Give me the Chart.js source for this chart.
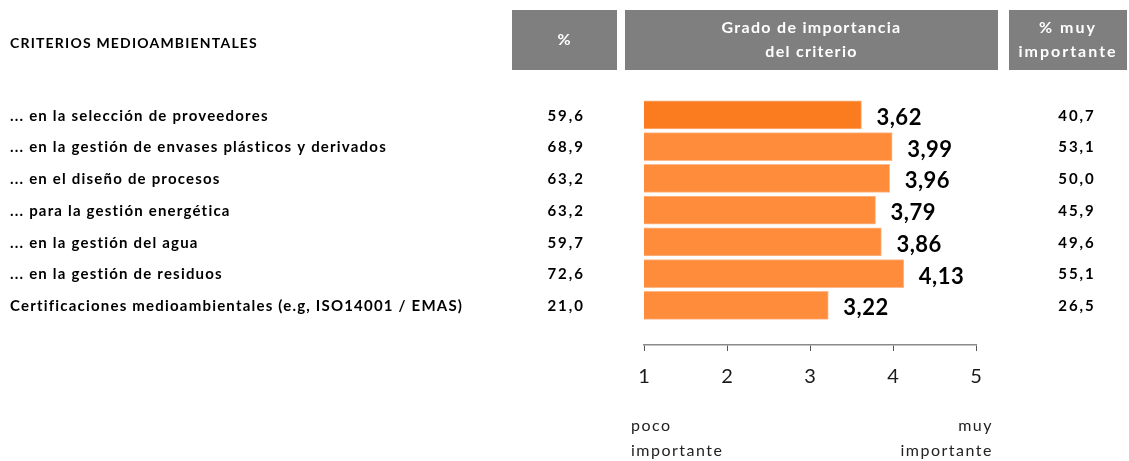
<!DOCTYPE html>
<html>
<head>
<meta charset="utf-8">
<script src="https://cdn.jsdelivr.net/npm/chart.js@4.4.1/dist/chart.umd.min.js"></script>
<style>
  html, body { margin: 0; padding: 0; background: #fff; }
  #wrap { width: 1129px; height: 461px; position: relative; }
</style>
</head>
<body>
<div id="wrap"><canvas id="myChart" width="1129" height="461"></canvas></div>
<script>
// data
const categories = [
	'... en la selección de proveedores',
	'... en la gestión de envases plásticos y derivados',
	'... en el diseño de procesos',
	'... para la gestión energética',
	'... en la gestión del agua',
	'... en la gestión de residuos',
	'Certificaciones medioambientales (e.g, ISO14001 / EMAS)'
];
const pctValues = [59.6, 68.9, 63.2, 63.2, 59.7, 72.6, 21.0];
const gradoValues = [3.62, 3.99, 3.96, 3.79, 3.86, 4.13, 3.22];
const muyImportanteValues = [40.7, 53.1, 50.0, 45.9, 49.6, 55.1, 26.5];
const scaleMin = 1;
const scaleMax = 5;
const endLabels = [['poco', 'importante'], ['muy', 'importante']];
const title = 'CRITERIOS MEDIOAMBIENTALES';
const headers = [['%'], ['Grado de importancia', 'del criterio'], ['% muy', 'importante']];

const FONT = 'Lato, "DejaVu Sans", sans-serif';
const fmt = (v, d) => v.toFixed(d).replace('.', ',');

const textPlugin = {
	id: 'textPlugin',
	afterDraw(chart) {
		const ctx = chart.ctx;
		const x = chart.scales.x;
		const y = chart.scales.y;
		ctx.save();

		// header boxes
		const boxes = [[512, 105], [625, 373], [1009, 118]];
		const headSpacing = ['1px', '1.3px', '2px'];
		ctx.fillStyle = '#7f7f7f';
		boxes.forEach(b => ctx.fillRect(b[0], 10, b[1], 60));
		ctx.fillStyle = '#ffffff';
		ctx.textAlign = 'center';
		ctx.textBaseline = 'middle';
		headers.forEach((lines, i) => {
			ctx.font = 'bold 16px ' + FONT;
			ctx.letterSpacing = headSpacing[i];
			const cx = boxes[i][0] + boxes[i][1] / 2;
			const y0 = 40 - (lines.length - 1) * 12;
			lines.forEach((l, j) => ctx.fillText(l, cx, y0 + j * 24));
		});

		// title
		ctx.fillStyle = '#000';
		ctx.textAlign = 'left';
		ctx.font = 'bold 14px ' + FONT;
		ctx.letterSpacing = '1.2px';
		ctx.fillText(title, 10, 43);

		// rows
		categories.forEach((c, i) => {
			const py = y.getPixelForValue(i) + 1;
			ctx.fillStyle = '#000';
			ctx.font = 'bold 15px ' + FONT;
			ctx.letterSpacing = '1.2px';
			ctx.textAlign = 'left';
			ctx.fillText(c, 10, py);
			ctx.letterSpacing = '2px';
			ctx.textAlign = 'right';
			ctx.fillText(fmt(pctValues[i], 1), 585, py);
			ctx.textAlign = 'center';
			ctx.fillText(fmt(muyImportanteValues[i], 1), 1077, py);
			// value label next to bar
			ctx.font = 'bold 22px ' + FONT;
			ctx.letterSpacing = '0.5px';
			ctx.textAlign = 'left';
			ctx.fillText(fmt(gradoValues[i], 2), x.getPixelForValue(gradoValues[i]) + 15, py + 2);
		});

		// poco / muy importante
		ctx.fillStyle = '#222';
		ctx.font = '16px ' + FONT;
		ctx.letterSpacing = '1.5px';
		ctx.textAlign = 'left';
		ctx.fillText(endLabels[0][0], x.getPixelForValue(scaleMin) - 13, 426);
		ctx.fillText(endLabels[0][1], x.getPixelForValue(scaleMin) - 13, 451);
		ctx.textAlign = 'right';
		ctx.fillText(endLabels[1][0], x.getPixelForValue(scaleMax) + 17, 426);
		ctx.fillText(endLabels[1][1], x.getPixelForValue(scaleMax) + 17, 451);
		ctx.restore();
	}
};

const myChart = document.getElementById('myChart').getContext('2d');
const barChart = new Chart(myChart, {
	type: 'bar',
	data: {
		datasets: [{
			data: gradoValues.map((v, i) => ({ x: v, y: i })),
			backgroundColor: gradoValues.map((v, i) => i === 0 ? '#fa7c1e' : '#ff8c3a'),
			borderColor: gradoValues.map((v, i) => i === 0 ? '#fcb07a' : '#ffb98a'),
			borderWidth: 1,
			borderSkipped: false,
			barThickness: 28
		}]
	},
	options: {
		indexAxis: 'y',
		responsive: false,
		animation: false,
		layout: { padding: { left: 644, right: 153, top: 99, bottom: 56 } },
		plugins: { legend: { display: false }, tooltip: { enabled: false } },
		scales: {
			x: {
				type: 'linear',
				min: scaleMin,
				max: scaleMax,
				ticks: { stepSize: 1, padding: 14, color: '#1a1a1a', font: { family: 'Lato', size: 20 } },
				grid: { drawOnChartArea: false, drawTicks: true, tickLength: 6, color: '#555' },
				border: { display: true, color: '#8a8a8a', width: 1.5 },
				afterFit: s => { s.height = 60; }
			},
			y: {
				type: 'linear',
				reverse: true,
				offset: false,
				min: -0.5,
				max: 7.25,
				display: false
			}
		}
	},
	plugins: [textPlugin]
});
</script>
</body>
</html>
